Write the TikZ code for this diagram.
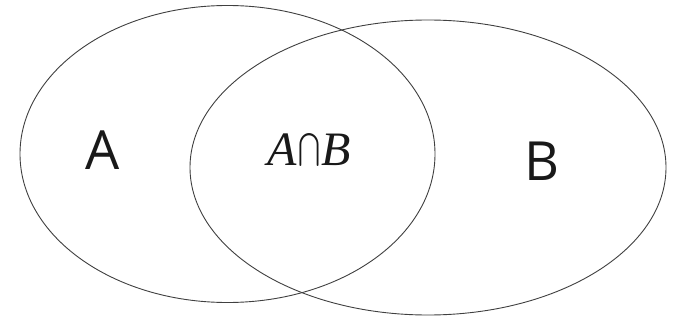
\documentclass[tikz,border=0pt]{standalone}
\usepackage{graphicx}
\usepackage{fontspec}
\setsansfont{Open Sans}
\newfontfamily\capfont{Liberation Serif}
\usetikzlibrary{shapes.geometric}
\newcommand{\bigcapsign}{\raisebox{-5pt}{\resizebox{22pt}{37pt}{$\bigcap$}}}
\tikzset{
  set shape/.style={
    draw=black!75, ellipse, line width=0.9pt, inner sep=0pt
  },
  set label/.style={
    font=\fontsize{54}{60}\selectfont\sffamily, text=black!90
  },
  cap label/.style={
    font=\fontsize{48}{54}\selectfont\capfont\itshape, text=black!90
  },
}

\begin{document}
\begin{tikzpicture}[x=1pt, y=-1pt]
  \useasboundingbox[fill=white] (0,0) rectangle (693,329);

  % the two sets
  \node[set shape, minimum width=415pt, minimum height=297pt] (setA) at (227.5,154) {};
  \node[set shape, minimum width=476pt, minimum height=295pt] (setB) at (428,167.5) {};

  % labels
  \node[set label] (labA) at (103,150) {A};
  \node[set label] (labB) at (542,161) {B};
  \node[cap label] (labAB) at (309,152) {A\kern1pt\bigcapsign\kern1ptB};

\end{tikzpicture}
\end{document}
